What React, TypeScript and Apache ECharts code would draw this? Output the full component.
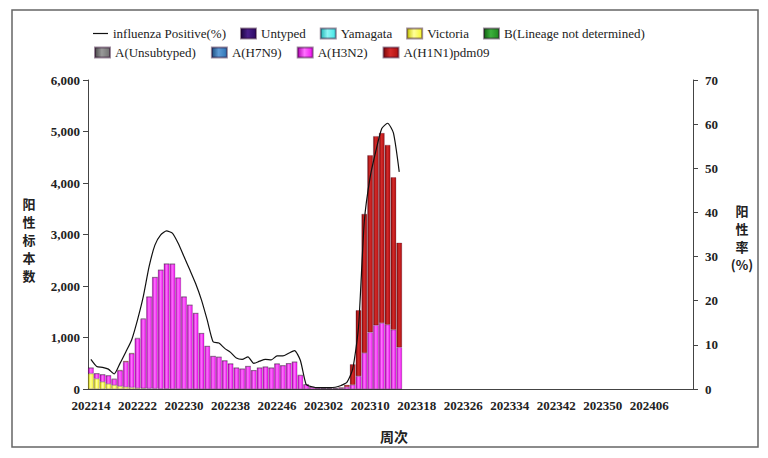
import React, { useEffect, useRef } from "react";
import * as echarts from "echarts";

// week ranges of the x axis: [year, firstWeek, lastWeek]
const weekRanges: [number, number, number][] = [
  [2022, 14, 52],
  [2023, 1, 52],
  [2024, 1, 13],
];
const weeks: string[] = [];
weekRanges.forEach(([y, a, b]) => {
  for (let w = a; w <= b; w++) weeks.push(`${y}${w < 10 ? "0" + w : w}`);
});

const seriesNames = [
  "influenza Positive(%)",
  "Untyped",
  "Yamagata",
  "Victoria",
  "B(Lineage not determined)",
  "A(Unsubtyped)",
  "A(H7N9)",
  "A(H3N2)",
  "A(H1N1)pdm09",
];

const untyped: number[] = [];
const yamagata: number[] = [];
const victoria: number[] = [
  300, 200, 140, 100, 75, 55, 40, 30, 20, 15, 10, 8, 5, 5, 3, 3, 2, 2, 2, 0,
  0, 0, 0, 0, 0, 0, 0, 0, 0, 0, 0, 0, 0, 0, 0, 0, 0, 0, 0, 0,
  0, 0, 0, 0, 0, 0, 0, 0, 0, 0, 0, 0, 0, 0,
];
const bUndetermined: number[] = [];
const aUnsubtyped: number[] = [];
const h7n9: number[] = [];
const h3n2: number[] = [
  110, 100, 140, 160, 115, 300, 485, 655, 960, 1345, 1780, 2160, 2305, 2425,
  2425, 2155, 1788, 1628, 1468, 1080, 830, 635, 620, 550, 490, 410, 390, 440,
  360, 410, 430, 410, 490, 455, 495, 525, 265, 85, 35,
  20, 12, 10, 10, 15, 40, 80, 250, 700, 1100, 1240, 1280, 1250, 1150, 810,
];
const h1n1: number[] = [
  0, 0, 0, 0, 10, 15, 20, 15, 10, 10, 0, 0, 0, 0, 0, 0, 0, 0, 0, 0,
  0, 0, 0, 0, 0, 0, 0, 0, 0, 0, 0, 0, 0, 0, 0, 0, 5, 5, 5,
  5, 3, 3, 5, 15, 40, 400, 1280, 2700, 3440, 3670, 3690, 3490, 2960, 2030,
];
const positiveRate: number[] = [
  6.7, 5.1, 4.9, 4.5, 3.4, 5.8, 8.4, 11.1, 15.6, 20.9, 27.7, 32.6, 34.9, 35.8,
  35.3, 33.0, 30.0, 27.0, 23.9, 20.2, 15.6, 10.7, 10.4, 9.2, 8.3, 7.0, 6.7, 7.3,
  5.8, 6.3, 6.7, 6.6, 7.5, 7.5, 8.1, 8.7, 6.5, 1.0, 0.5,
  0.3, 0.3, 0.3, 0.4, 0.8, 1.5, 4.5, 14.0, 38.0, 48.0, 54.0, 59.0, 60.2, 58.0, 49.2,
];

const leftTicks = { min: 0, max: 6000, interval: 1000 };
const rightTicks = { min: 0, max: 70, interval: 10 };

const leftName = ["阳", "性", "标", "本", "数"];
const rightName = ["阳", "性", "率", "(%)"];
const xName = "周次";

const palette: Record<string, [string, string, string]> = {
  Untyped: ["#2e0b66", "#1c0540", "#4a1f8a"],
  Yamagata: ["#3fe6e6", "#22b5b5", "#8ff5f5"],
  Victoria: ["#f5f52a", "#c9c900", "#ffff9a"],
  "B(Lineage not determined)": ["#1f8a1f", "#136013", "#3db03d"],
  "A(Unsubtyped)": ["#707070", "#4a4a4a", "#9a9a9a"],
  "A(H7N9)": ["#2e75b6", "#1d4f80", "#5e9bd6"],
  "A(H3N2)": ["#ee10ee", "#b000b0", "#ff70ff"],
  "A(H1N1)pdm09": ["#b01010", "#800808", "#d42a2a"],
};

const barData: Record<string, number[]> = {
  Untyped: untyped,
  Yamagata: yamagata,
  Victoria: victoria,
  "B(Lineage not determined)": bUndetermined,
  "A(Unsubtyped)": aUnsubtyped,
  "A(H7N9)": h7n9,
  "A(H3N2)": h3n2,
  "A(H1N1)pdm09": h1n1,
};

const FONT = "'Liberation Serif', 'Times New Roman', serif";
const CJK = "'Noto Sans CJK SC', sans-serif";
const LINE_ICON = "path://M0,0L0,0M0,4.4L15,4.4L15,5.6L0,5.6ZM15,10L15,10";

export default function App() {
  const ref = useRef<HTMLDivElement>(null);
  useEffect(() => {
    document.body.style.margin = "0";
    if (!ref.current) return;
    const chart = echarts.init(ref.current, undefined, { renderer: "svg" });
    const grad = (c: [string, string, string]) =>
      new echarts.graphic.LinearGradient(0, 0, 1, 0, [
        { offset: 0, color: c[1] },
        { offset: 0.45, color: c[2] },
        { offset: 1, color: c[0] },
      ]);
    const bars = seriesNames.slice(1).map((n) => ({
      name: n,
      type: "bar",
      stack: "total",
      yAxisIndex: 0,
      barCategoryGap: "4%",
      data: barData[n],
      itemStyle: {
        color: grad(palette[n]),
        borderColor: "rgba(40,0,40,0.45)",
        borderWidth: 0.5,
      },
    }));
    const legendText = { fontFamily: FONT, fontSize: 13, color: "#222" };
    const charText = (t: string, x: number, y: number, size = 13) => ({
      type: "text",
      x,
      y,
      style: {
        text: t,
        font: `bold ${size}px ${CJK}`,
        fill: "#222",
        align: "center",
        verticalAlign: "middle",
      },
    });
    const rectItem = (n: string) => ({ name: n, icon: "rect" });
    chart.setOption({
      animation: false,
      backgroundColor: "#fff",
      grid: { left: 88, right: 75, top: 80, bottom: 69 },
      legend: [
        {
          left: 88,
          top: 22,
          itemWidth: 15,
          itemHeight: 10,
          itemGap: 14,
          textStyle: legendText,
          data: [
            {
              name: seriesNames[0],
              icon: LINE_ICON,
              itemStyle: { color: "#111", borderWidth: 0 },
            },
            ...seriesNames.slice(1, 5).map(rectItem),
          ],
        },
        {
          left: 89,
          top: 41,
          itemWidth: 15,
          itemHeight: 10,
          itemGap: 15,
          textStyle: legendText,
          data: seriesNames.slice(5).map(rectItem),
        },
      ],
      xAxis: {
        type: "category",
        data: weeks,
        boundaryGap: true,
        axisLine: { lineStyle: { color: "#444", width: 1 } },
        axisTick: { interval: 7, length: 5, lineStyle: { color: "#444" } },
        axisLabel: {
          interval: 7,
          margin: 10,
          fontFamily: FONT,
          fontWeight: "bold",
          fontSize: 13,
          color: "#222",
        },
      },
      yAxis: [
        {
          type: "value",
          ...leftTicks,
          splitLine: { show: false },
          axisLine: { show: true, lineStyle: { color: "#444" } },
          axisTick: { show: true, length: 5, lineStyle: { color: "#444" } },
          axisLabel: {
            fontFamily: FONT,
            fontWeight: "bold",
            fontSize: 13,
            color: "#222",
            formatter: (v: number) => v.toLocaleString("en-US"),
          },
        },
        {
          type: "value",
          ...rightTicks,
          splitLine: { show: false },
          axisLine: { show: true, lineStyle: { color: "#444" } },
          axisTick: { show: true, length: 5, lineStyle: { color: "#444" } },
          axisLabel: {
            margin: 12,
            fontFamily: FONT,
            fontWeight: "bold",
            fontSize: 13,
            color: "#222",
          },
        },
      ],
      graphic: [
        {
          type: "rect",
          shape: { x: 12, y: 10, width: 746, height: 437 },
          style: { fill: "none", stroke: "#666", lineWidth: 1.5 },
          silent: true,
        },
        ...leftName.map((c, i) => charText(c, 29, 203 + i * 18)),
        ...rightName.map((c, i) => charText(c, 742, 210 + i * 18)),
        charText(xName, 394, 436, 14),
      ],
      series: [
        {
          name: seriesNames[0],
          type: "line",
          yAxisIndex: 1,
          data: positiveRate,
          symbol: "none",
          smooth: 0.2,
          z: 5,
          itemStyle: { color: "#111" },
          lineStyle: { color: "#111", width: 1.2 },
        },
        ...bars,
      ],
    });
    return () => chart.dispose();
  }, []);
  return <div ref={ref} style={{ width: 768, height: 458 }} />;
}
